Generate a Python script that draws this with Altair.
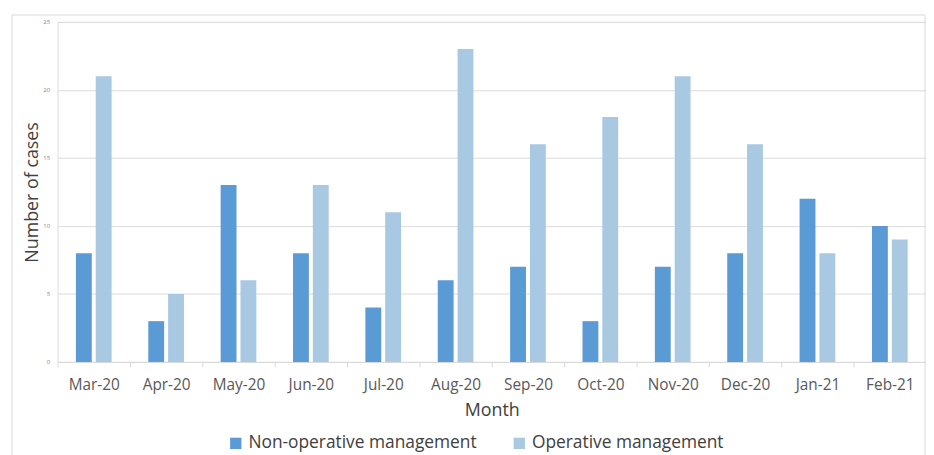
import altair as alt
import pandas as pd

months = ["Mar-20", "Apr-20", "May-20", "Jun-20", "Jul-20", "Aug-20",
          "Sep-20", "Oct-20", "Nov-20", "Dec-20", "Jan-21", "Feb-21"]
non_operative = [8, 3, 13, 8, 4, 6, 7, 3, 7, 8, 12, 10]
operative = [21, 5, 6, 13, 11, 23, 16, 18, 21, 16, 8, 9]
series = ["Non-operative management", "Operative management"]
colors = ["#5B9BD5", "#A9C8E2"]
y_ticks = [0, 5, 10, 15, 20, 25]

rows = []
for m, a, b in zip(months, non_operative, operative):
    rows.append({"Month": m, "Series": series[0], "Cases": a})
    rows.append({"Month": m, "Series": series[1], "Cases": b})
df = pd.DataFrame(rows)

FONT = "Open Sans"

bars = alt.Chart(df).mark_bar(stroke=None).encode(
    x=alt.X("Month:N", sort=months,
            scale=alt.Scale(paddingInner=0, paddingOuter=0),
            axis=alt.Axis(title="Month", labelAngle=0, labelFontSize=15.5,
                          labelColor="#595959", labelFont=FONT, labelPadding=11,
                          titleFont=FONT, titleFontSize=18, titleFontWeight="normal",
                          titleColor="#404040", titlePadding=9,
                          domainColor="#d9d9d9", tickColor="#d9d9d9",
                          tickSize=5, tickBand="extent", grid=False)),
    xOffset=alt.XOffset("Series:N", sort=series,
                        scale=alt.Scale(paddingInner=0.2, paddingOuter=0.925)),
    y=alt.Y("Cases:Q", scale=alt.Scale(domain=[0, 25]),
            axis=alt.Axis(title="Number of cases", values=y_ticks,
                          labelFontSize=6, labelColor="#888888", labelFont=FONT,
                          labelPadding=8, domain=False, ticks=False,
                          gridColor="#dcdcdc", titleFont=FONT, titleFontSize=18,
                          titleFontWeight="normal", titleColor="#404040",
                          titlePadding=1)),
    color=alt.Color("Series:N", sort=series,
                    scale=alt.Scale(domain=series, range=colors),
                    legend=alt.Legend(title=None, orient="none", direction="horizontal",
                                      legendX=171, legendY=416,
                                      symbolType="square", symbolSize=130,
                                      symbolStrokeWidth=0,
                                      labelFont=FONT, labelFontSize=17.5,
                                      labelColor="#404040", columnPadding=34,
                                      labelLimit=400)),
)

frame = alt.Chart(pd.DataFrame({"a": [0]})).mark_rect(
    fill=None, stroke="#d9d9d9", strokeWidth=1
).encode(x=alt.value(-46), x2=alt.value(875), y=alt.value(-7), y2=alt.value(480))

chart = alt.layer(frame, bars).properties(
    width=876, height=343,
    autosize=alt.AutoSizeParams(type="none"),
    padding={"left": 50, "top": 12, "right": 0, "bottom": 110},
).configure_view(stroke=None).configure(background="white")

chart.save("out.html", embed_options={"renderer": "svg", "actions": False})
